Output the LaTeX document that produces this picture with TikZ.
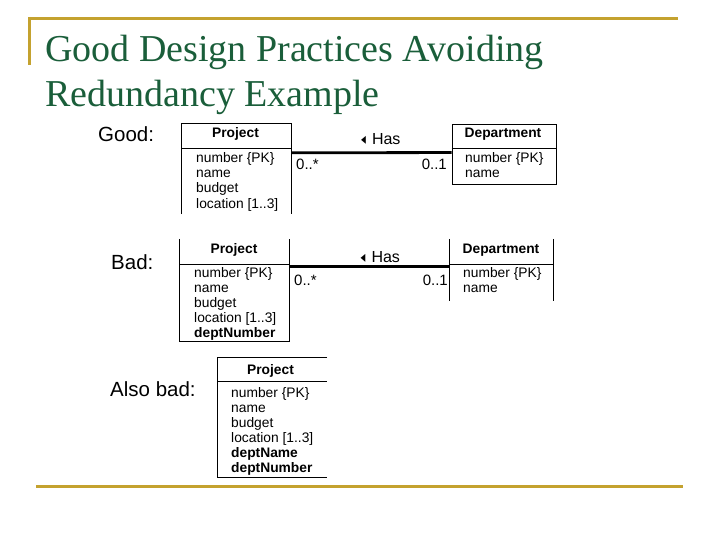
\documentclass[tikz,border=0pt]{standalone}
\usepackage{fontspec}
\setmainfont{Liberation Serif}
\setsansfont{Liberation Sans}
\newfontfamily\symfont{DejaVu Sans}
\usetikzlibrary{positioning}
\definecolor{titlegreen}{HTML}{1A5E3A}
\definecolor{rulegold}{HTML}{C4A22F}
\newcommand{\navarrow}{{\symfont\fontsize{16}{16}\selectfont\scalebox{0.6}[1]{◂}}}

\begin{document}
\begin{tikzpicture}[
  x=1pt, y=-1pt,
  rule/.style={draw=rulegold,line width=3pt},
  title/.style={anchor=base west,inner sep=0pt,text=titlegreen,font=\rmfamily\fontsize{38}{45}\selectfont},
  tag/.style={anchor=base west,inner sep=0pt,font=\sffamily\fontsize{20.5}{24}\selectfont},
  cls/.style={inner sep=0pt,minimum width=109pt},
  uml/.style={draw,line width=0.9pt},
  head/.style={anchor=base,inner sep=0pt,font=\sffamily\bfseries\fontsize{13.8}{15}\selectfont},
  attr/.style={anchor=base west,inner sep=0pt,font=\sffamily\fontsize{13.8}{15}\selectfont},
  mult/.style={anchor=base west,inner sep=0pt,font=\sffamily\fontsize{15}{15}\selectfont},
  assoc/.style={draw,line width=2.8pt},
  role/.style={anchor=base west,inner sep=0pt,font=\sffamily\fontsize{16}{16}\selectfont}
]
  \useasboundingbox (0,0) rectangle (720,540);

  % slide frame and title
  \draw[rule] (28,18.5) -- (678,18.5);
  \draw[rule] (29.5,17) -- (29.5,65);
  \draw[rule] (36,486) -- (683,486);
  \node[title] (title1) at (45,62) {Good Design Practices Avoiding};
  \node[title] (title2) at (45,107) {Redundancy Example};

  % good
  \node[tag] (good) at (98,142) {Good:};
  \node[cls,minimum height=90pt] (gp) at (236.5,169) {};
  \draw[uml] (gp.south west) -- (gp.north west) -- (gp.north east) -- (gp.south east);
  \draw[uml] ([yshift=-25pt]gp.north west) -- ([yshift=-25pt]gp.north east);
  \node[head] (gp-h) at (235.5,138) {Project};
  \foreach \a [count=\i] in {{number \{PK\}},{name},{budget},{location [1..3]}}
    \node[attr] (gp-\i) at (196,148+15*\i) {\a};
  \node[cls,uml,minimum width=104pt,minimum height=60pt] (gd) at (504,154) {};
  \draw[uml] ([yshift=-25pt]gd.north west) -- ([yshift=-25pt]gd.north east);
  \node[head] (gd-h) at (503,138) {Department};
  \foreach \a [count=\i] in {{number \{PK\}},{name}}
    \node[attr] (gd-\i) at (465,148+15*\i) {\a};
  \draw[assoc] ([yshift=-29pt]gp.north east) -- ([yshift=-29pt]gd.north west);
  \node[role] (g-has) at (361,145) {\navarrow\hspace{6pt}Has};
  \node[mult] (g-many) at (296,170) {0..*};
  \node[mult,anchor=base east] (g-one) at (447,170) {0..1};

  % bad
  \node[tag] (bad) at (111,269) {Bad:};
  \node[cls,minimum height=102pt] (bp) at (234.5,290) {};
  \draw[uml] (bp.north west) -- (bp.south west) -- (bp.south east) -- (bp.north east);
  \draw[uml] ([yshift=-26pt]bp.north west) -- ([yshift=-26pt]bp.north east);
  \node[head] (bp-h) at (234,254) {Project};
  \foreach \a [count=\i] in {{number \{PK\}},{name},{budget},{location [1..3]},{\textbf{deptNumber}}}
    \node[attr] (bp-\i) at (194,262+15*\i) {\a};
  \node[cls,minimum width=103pt,minimum height=62pt] (bd) at (501.5,270) {};
  \draw[uml] (bd.north west) -- (bd.south west);
  \draw[uml] (bd.north east) -- (bd.south east);
  \draw[uml] ([yshift=-26pt]bd.north west) -- ([yshift=-26pt]bd.north east);
  \node[head] (bd-h) at (501,254) {Department};
  \foreach \a [count=\i] in {{number \{PK\}},{name}}
    \node[attr] (bd-\i) at (463,262+15*\i) {\a};
  \draw[assoc] ([yshift=-28pt]bp.north east) -- ([yshift=-28pt]bd.north west);
  \node[role] (b-has) at (360.5,262.5) {\navarrow\hspace{6pt}Has};
  \node[mult] (b-many) at (294,285) {0..*};
  \node[mult,anchor=base east] (b-one) at (448,285) {0..1};

  % also bad
  \node[tag] (alsobad) at (110,396) {Also bad:};
  \node[cls,minimum height=119pt] (ap) at (272.5,417.5) {};
  \draw[uml] (ap.north east) -- (ap.north west) -- (ap.south west) -- (ap.south east);
  \draw[uml] ([yshift=-24pt]ap.north west) -- ([yshift=-24pt]ap.north east);
  \node[head] (ap-h) at (270.5,374.5) {Project};
  \foreach \a [count=\i] in {{number \{PK\}},{name},{budget},{location [1..3]},{\textbf{deptName}},{\textbf{deptNumber}}}
    \node[attr] (ap-\i) at (231,382+15*\i) {\a};
\end{tikzpicture}
\end{document}
